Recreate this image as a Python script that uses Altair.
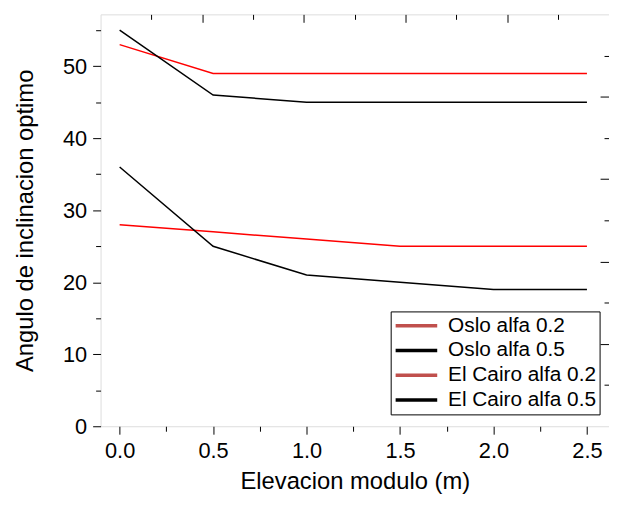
import altair as alt
import pandas as pd

elevacion = [0.0, 0.5, 1.0, 1.5, 2.0, 2.5]
series_names = ["Oslo alfa 0.2", "Oslo alfa 0.5", "El Cairo alfa 0.2", "El Cairo alfa 0.5"]
oslo_02 = [53, 49, 49, 49, 49, 49]
oslo_05 = [55, 46, 45, 45, 45, 45]
cairo_02 = [28, 27, 26, 25, 25, 25]
cairo_05 = [36, 25, 21, 20, 19, 19]
line_colors = ["#ff0000", "#000000", "#ff0000", "#000000"]
legend_colors = ["#c0504d", "#000000", "#c0504d", "#000000"]

x_major = [0.0, 0.5, 1.0, 1.5, 2.0, 2.5]
x_minor = [0.25, 0.75, 1.25, 1.75, 2.25]
y_major = [0, 10, 20, 30, 40, 50]
y_minor = [5, 15, 25, 35, 45, 55]
top_major = [0.5, 1.0, 1.5, 2.0]
top_minor = [0.25, 0.75, 1.25, 1.75, 2.25]
right_major = [10, 20, 30, 40]
right_minor = [5, 15, 25, 35, 45]

rows = []
for name, vals in zip(series_names, [oslo_02, oslo_05, cairo_02, cairo_05]):
    for xv, yv in zip(elevacion, vals):
        rows.append({"x": xv, "y": yv, "serie": name})
df = pd.DataFrame(rows)

FONT = "Liberation Sans"
XDOM = [-0.102, 2.618]
YDOM = [0, 57.2]
base = alt.Chart(df)

def ax(**kw):
    d = dict(grid=False, domain=False, tickColor="black", tickWidth=1,
             labelFont=FONT, labelColor="black", titleFont=FONT, titleColor="black",
             titleFontWeight="normal")
    d.update(kw)
    return alt.Axis(**d)

lines = base.mark_line(strokeWidth=1.5).encode(
    x=alt.X("x:Q", scale=alt.Scale(domain=XDOM, nice=False, zero=False),
            axis=ax(orient="bottom", values=x_major, format=".1f", tickSize=8,
                    labelFontSize=22, labelPadding=7, title="Elevacion modulo (m)",
                    titleFontSize=24, titlePadding=8)),
    y=alt.Y("y:Q", scale=alt.Scale(domain=YDOM, nice=False),
            axis=ax(orient="left", values=y_major, format="d", tickSize=8,
                    labelFontSize=22, labelPadding=6, title="Angulo de inclinacion optimo",
                    titleFontSize=24, titlePadding=25)),
    color=alt.Color("serie:N", scale=alt.Scale(domain=series_names, range=line_colors), legend=None),
    detail="serie:N",
)

legend_layer = base.transform_filter("false").mark_line(strokeWidth=3).encode(
    x=alt.X("x:Q", scale=alt.Scale(domain=XDOM, nice=False, zero=False), axis=None),
    y=alt.Y("y:Q", scale=alt.Scale(domain=YDOM, nice=False), axis=None),
    color=alt.Color("serie:N", scale=alt.Scale(domain=series_names, range=legend_colors),
                    legend=alt.Legend(orient="none", legendX=293, legendY=300, title=None,
                                      strokeColor="black", fillColor="white", padding=3,
                                      labelFont=FONT, labelFontSize=21, labelColor="black",
                                      symbolType="stroke", symbolSize=1764, symbolStrokeWidth=3.5,
                                      labelOffset=9, clipHeight=23, rowPadding=2)),
)

def invisible(xenc, yenc):
    return base.mark_point(opacity=0).encode(x=xenc, y=yenc)

x_none = alt.X("x:Q", scale=alt.Scale(domain=XDOM, nice=False, zero=False), axis=None)
y_none = alt.Y("y:Q", scale=alt.Scale(domain=YDOM, nice=False), axis=None)

bottom_minor = invisible(
    alt.X("x:Q", scale=alt.Scale(domain=XDOM, nice=False, zero=False),
          axis=ax(orient="bottom", values=x_minor, tickSize=5, labels=False, title=None)),
    y_none)
left_minor = invisible(
    x_none,
    alt.Y("y:Q", scale=alt.Scale(domain=YDOM, nice=False),
          axis=ax(orient="left", values=y_minor, tickSize=5, labels=False, title=None)))
top_major_l = invisible(
    alt.X("x:Q", scale=alt.Scale(domain=[0, 2.5], nice=False, zero=False),
          axis=ax(orient="top", values=top_major, tickSize=8, offset=-8, labels=False, title=None)),
    y_none)
top_minor_l = invisible(
    alt.X("x:Q", scale=alt.Scale(domain=[0, 2.5], nice=False, zero=False),
          axis=ax(orient="top", values=top_minor, tickSize=5, offset=-5, labels=False, title=None)),
    y_none)
right_major_l = invisible(
    x_none,
    alt.Y("y:Q", scale=alt.Scale(domain=[0, 50], nice=False),
          axis=ax(orient="right", values=right_major, tickSize=9, offset=-9, labels=False, title=None)))
right_minor_l = invisible(
    x_none,
    alt.Y("y:Q", scale=alt.Scale(domain=[0, 50], nice=False),
          axis=ax(orient="right", values=right_minor, tickSize=5, offset=-5, labels=False, title=None)))

chart = alt.layer(
    lines, legend_layer, bottom_minor, left_minor, top_major_l, top_minor_l, right_major_l, right_minor_l
).resolve_scale(
    x="independent", y="independent", color="independent"
).resolve_axis(
    x="independent", y="independent"
).properties(
    width=513.5, height=416,
    autosize=alt.AutoSizeParams(type="none"),
    padding={"left": 93.5, "top": 4, "right": 0, "bottom": 69},
).configure_view(
    stroke="black", strokeWidth=1.2
).configure(background="white")

chart.save("out.html", embed_options={"renderer": "svg", "actions": False})
